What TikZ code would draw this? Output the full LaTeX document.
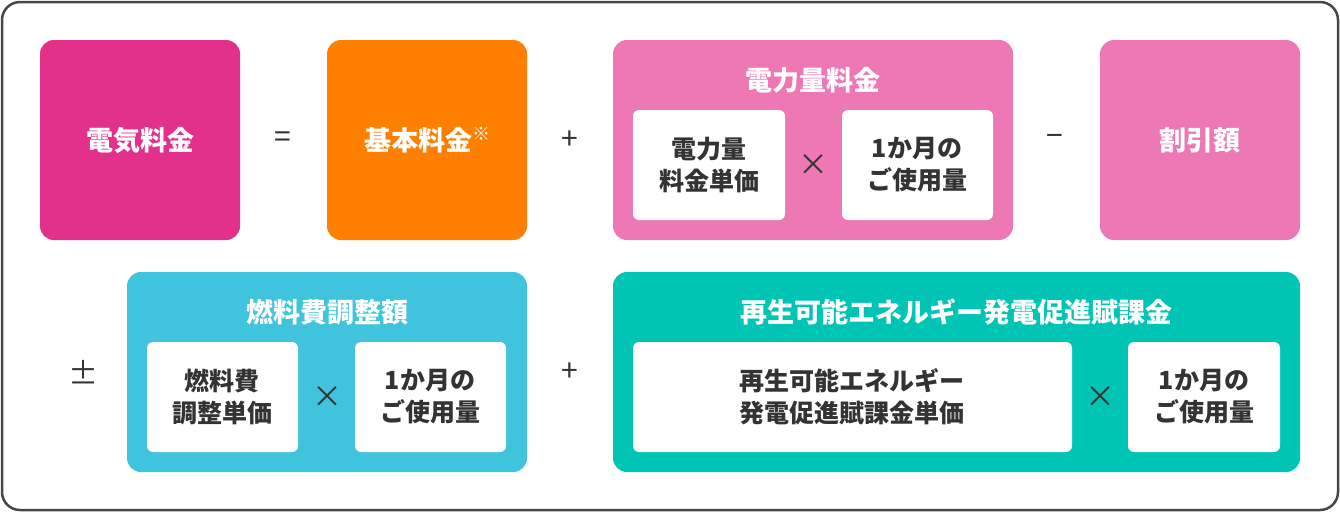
\documentclass[tikz,border=0pt]{standalone}
\usepackage{fontspec}
\setmainfont{Noto Sans CJK JP}
\definecolor{mag}{HTML}{E3308A}
\definecolor{org}{HTML}{FF7F00}
\definecolor{pnk}{HTML}{EE78B4}
\definecolor{cyn}{HTML}{40C4DE}
\definecolor{tea}{HTML}{00C5B5}
\definecolor{txt}{HTML}{333333}
\begin{document}
\begin{tikzpicture}[x=1pt,y=-1pt,
  box/.style={rounded corners=14pt},
  wbox/.style={fill=white,rounded corners=6pt},
  ttl/.style={text=white,font=\fontsize{27}{32}\selectfont\bfseries,align=center},
  itx/.style={text=txt,font=\fontsize{25}{32}\selectfont\bfseries,align=center},
  op/.style={text=txt,font=\fontsize{30}{32}\selectfont}]
\useasboundingbox (0,0) rectangle (1340,512);
\draw[line width=2.5pt,draw=txt!90,rounded corners=18pt,fill=white] (2,2) rectangle (1338,510);
% row 1
\fill[box,mag] (40,40) rectangle (240,240);
\node[ttl] (a) at (140,140) {電気料金};
\node[op] (eq) at (283,140) {=};
\fill[box,org] (327,40) rectangle (527,240);
\node[ttl] (b) at (427,140) {基本料金\raisebox{0.35em}{\fontsize{18}{20}\selectfont ※}};
\node[op] (p1) at (570,140) {+};
\fill[box,pnk] (613,40) rectangle (1013,240);
\node[ttl] (c) at (813,80) {電力量料金};
\fill[wbox] (633,110) rectangle (785,220);
\node[itx] (c1) at (709,165) {電力量\\料金単価};
\node[op] (x1) at (813,165) {×};
\fill[wbox] (842,110) rectangle (993,220);
\node[itx] (c2) at (917,165) {1か月の\\ご使用量};
\node[op] (m) at (1055,140) {−};
\fill[box,pnk] (1100,40) rectangle (1300,240);
\node[ttl] (d) at (1200,140) {割引額};
% row 2
\node[op] (pm) at (83,372) {±};
\fill[box,cyn] (127,272) rectangle (527,472);
\node[ttl] (e) at (327,312) {燃料費調整額};
\fill[wbox] (147,342) rectangle (298,452);
\node[itx] (e1) at (222,397) {燃料費\\調整単価};
\node[op] (x2) at (327,397) {×};
\fill[wbox] (355,342) rectangle (506,452);
\node[itx] (e2) at (430,397) {1か月の\\ご使用量};
\node[op] (p2) at (570,372) {+};
\fill[box,tea] (613,272) rectangle (1300,472);
\node[ttl] (f) at (956,312) {再生可能エネルギー発電促進賦課金};
\fill[wbox] (633,342) rectangle (1072,452);
\node[itx] (f1) at (852,397) {再生可能エネルギー\\発電促進賦課金単価};
\node[op] (x3) at (1100,397) {×};
\fill[wbox] (1128,342) rectangle (1280,452);
\node[itx] (f2) at (1204,397) {1か月の\\ご使用量};
\end{tikzpicture}
\end{document}
